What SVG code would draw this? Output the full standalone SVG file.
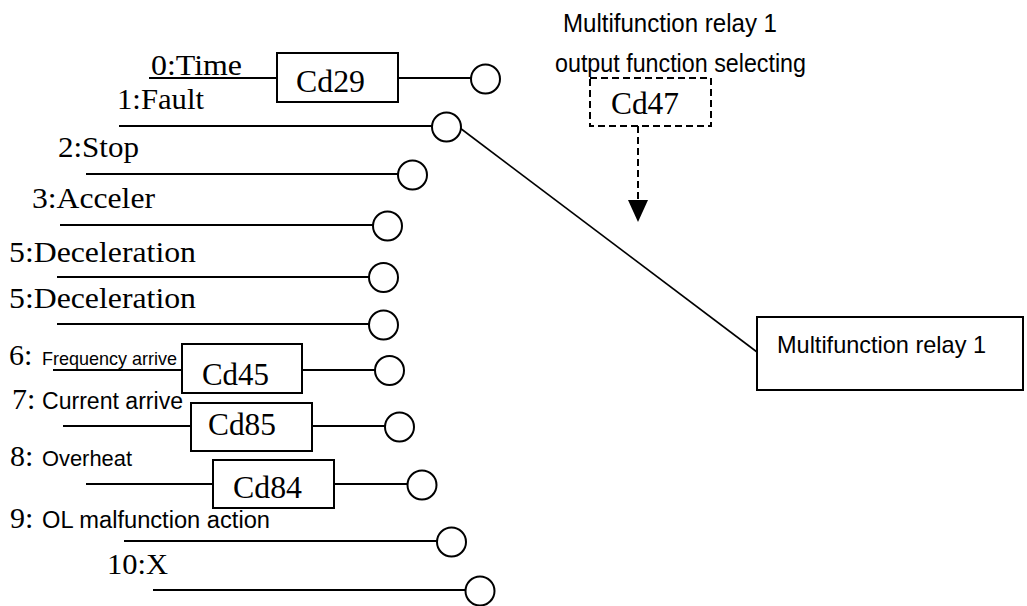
<svg xmlns="http://www.w3.org/2000/svg" width="1027" height="606" viewBox="0 0 1027 606">
<style>
.s{font-family:"Liberation Serif","Times New Roman",serif;font-size:30px;fill:#000}
.c{font-family:"Liberation Serif","Times New Roman",serif;font-size:32.5px;fill:#000}
.a{font-family:"Liberation Sans",Arial,sans-serif;fill:#000}
.ln{stroke:#000;stroke-width:2;fill:none}
.bx{stroke:#000;stroke-width:2;fill:#fff}
.ci{stroke:#000;stroke-width:2;fill:#fff}
.dash{stroke:#000;stroke-width:2;fill:none;stroke-dasharray:7 4}
</style>
<rect width="1027" height="606" fill="#fff"/>
<g id="connectors">
<line class="ln" x1="149" y1="78" x2="277" y2="78"/>
<line class="ln" x1="398" y1="78" x2="471" y2="78"/>
<line class="ln" x1="119" y1="126" x2="432" y2="126"/>
<line class="ln" x1="86" y1="174" x2="398" y2="174"/>
<line class="ln" x1="60" y1="225" x2="373" y2="225"/>
<line class="ln" x1="57" y1="277" x2="369" y2="277"/>
<line class="ln" x1="57" y1="324" x2="369" y2="324"/>
<line class="ln" x1="53" y1="370" x2="182" y2="370"/>
<line class="ln" x1="302" y1="370" x2="375" y2="370"/>
<line class="ln" x1="63" y1="426" x2="191" y2="426"/>
<line class="ln" x1="312" y1="426" x2="385" y2="426"/>
<line class="ln" x1="86" y1="484" x2="213" y2="484"/>
<line class="ln" x1="334" y1="484" x2="407" y2="484"/>
<line class="ln" x1="124" y1="541" x2="437" y2="541"/>
<line class="ln" x1="153" y1="590" x2="466" y2="590"/>
<line x1="460" y1="128" x2="757" y2="352" stroke="#000" stroke-width="1.6"/>
<line class="dash" x1="638" y1="126" x2="638" y2="201"/>
<polygon points="628,200 648,200 638,222" fill="#000"/>
</g>
<g id="row0">
<text class="s" x="151" y="75" textLength="91" lengthAdjust="spacingAndGlyphs">0:Time</text>
<rect class="bx" x="277" y="53" width="121" height="49"/>
<text class="c" x="296" y="92" textLength="69" lengthAdjust="spacingAndGlyphs">Cd29</text>
<circle class="ci" cx="485.5" cy="79" r="14.5"/>
</g>
<g id="row1">
<text class="s" x="117" y="109" textLength="87" lengthAdjust="spacingAndGlyphs">1:Fault</text>
<circle class="ci" cx="446.5" cy="127" r="14.5"/>
</g>
<g id="row2">
<text class="s" x="58" y="157" textLength="81" lengthAdjust="spacingAndGlyphs">2:Stop</text>
<circle class="ci" cx="412.5" cy="175" r="14.5"/>
</g>
<g id="row3">
<text class="s" x="32" y="208" textLength="123" lengthAdjust="spacingAndGlyphs">3:Acceler</text>
<circle class="ci" cx="387.5" cy="226" r="14.5"/>
</g>
<g id="row4">
<text class="s" x="9" y="262" textLength="187" lengthAdjust="spacingAndGlyphs">5:Deceleration</text>
<circle class="ci" cx="383.5" cy="277.5" r="14.5"/>
</g>
<g id="row5">
<text class="s" x="9" y="308" textLength="187" lengthAdjust="spacingAndGlyphs">5:Deceleration</text>
<circle class="ci" cx="383.5" cy="325" r="14.5"/>
</g>
<g id="row6">
<text class="s" x="9" y="365">6:</text>
<text class="a" x="42" y="365" font-size="18.5" textLength="135" lengthAdjust="spacingAndGlyphs">Frequency arrive</text>
<rect class="bx" x="182" y="344" width="120" height="49"/>
<text class="c" x="202" y="385" textLength="67" lengthAdjust="spacingAndGlyphs">Cd45</text>
<circle class="ci" cx="389.5" cy="370.5" r="14.5"/>
</g>
<g id="row7">
<text class="s" x="12" y="409">7:</text>
<text class="a" x="42" y="409" font-size="23" textLength="141" lengthAdjust="spacingAndGlyphs">Current arrive</text>
<rect class="bx" x="191" y="403" width="121" height="48"/>
<text class="c" x="208" y="435" textLength="68" lengthAdjust="spacingAndGlyphs">Cd85</text>
<circle class="ci" cx="399.5" cy="427" r="14.5"/>
</g>
<g id="row8">
<text class="s" x="10" y="466">8:</text>
<text class="a" x="42" y="466" font-size="22" textLength="90" lengthAdjust="spacingAndGlyphs">Overheat</text>
<rect class="bx" x="213" y="460" width="121" height="48"/>
<text class="c" x="233" y="498" textLength="69" lengthAdjust="spacingAndGlyphs">Cd84</text>
<circle class="ci" cx="422" cy="485" r="14.5"/>
</g>
<g id="row9">
<text class="s" x="10" y="528">9:</text>
<text class="a" x="42" y="528" font-size="23" textLength="228" lengthAdjust="spacingAndGlyphs">OL malfunction action</text>
<circle class="ci" cx="451.5" cy="542" r="14.5"/>
</g>
<g id="row10">
<text class="s" x="107" y="574" textLength="61" lengthAdjust="spacingAndGlyphs">10:X</text>
<circle class="ci" cx="480" cy="591" r="14.5"/>
</g>
<g id="selector">
<text class="a" x="563" y="32" font-size="25" textLength="214" lengthAdjust="spacingAndGlyphs">Multifunction relay 1</text>
<text class="a" x="555" y="72" font-size="25" textLength="251" lengthAdjust="spacingAndGlyphs">output function selecting</text>
<rect class="dash" x="590" y="78" width="121" height="48"/>
<text class="c" x="611" y="114" textLength="68" lengthAdjust="spacingAndGlyphs">Cd47</text>
</g>
<g id="relay">
<rect class="bx" x="757" y="317" width="266" height="73"/>
<text class="a" x="777" y="353" font-size="24" textLength="209" lengthAdjust="spacingAndGlyphs">Multifunction relay 1</text>
</g>
</svg>
